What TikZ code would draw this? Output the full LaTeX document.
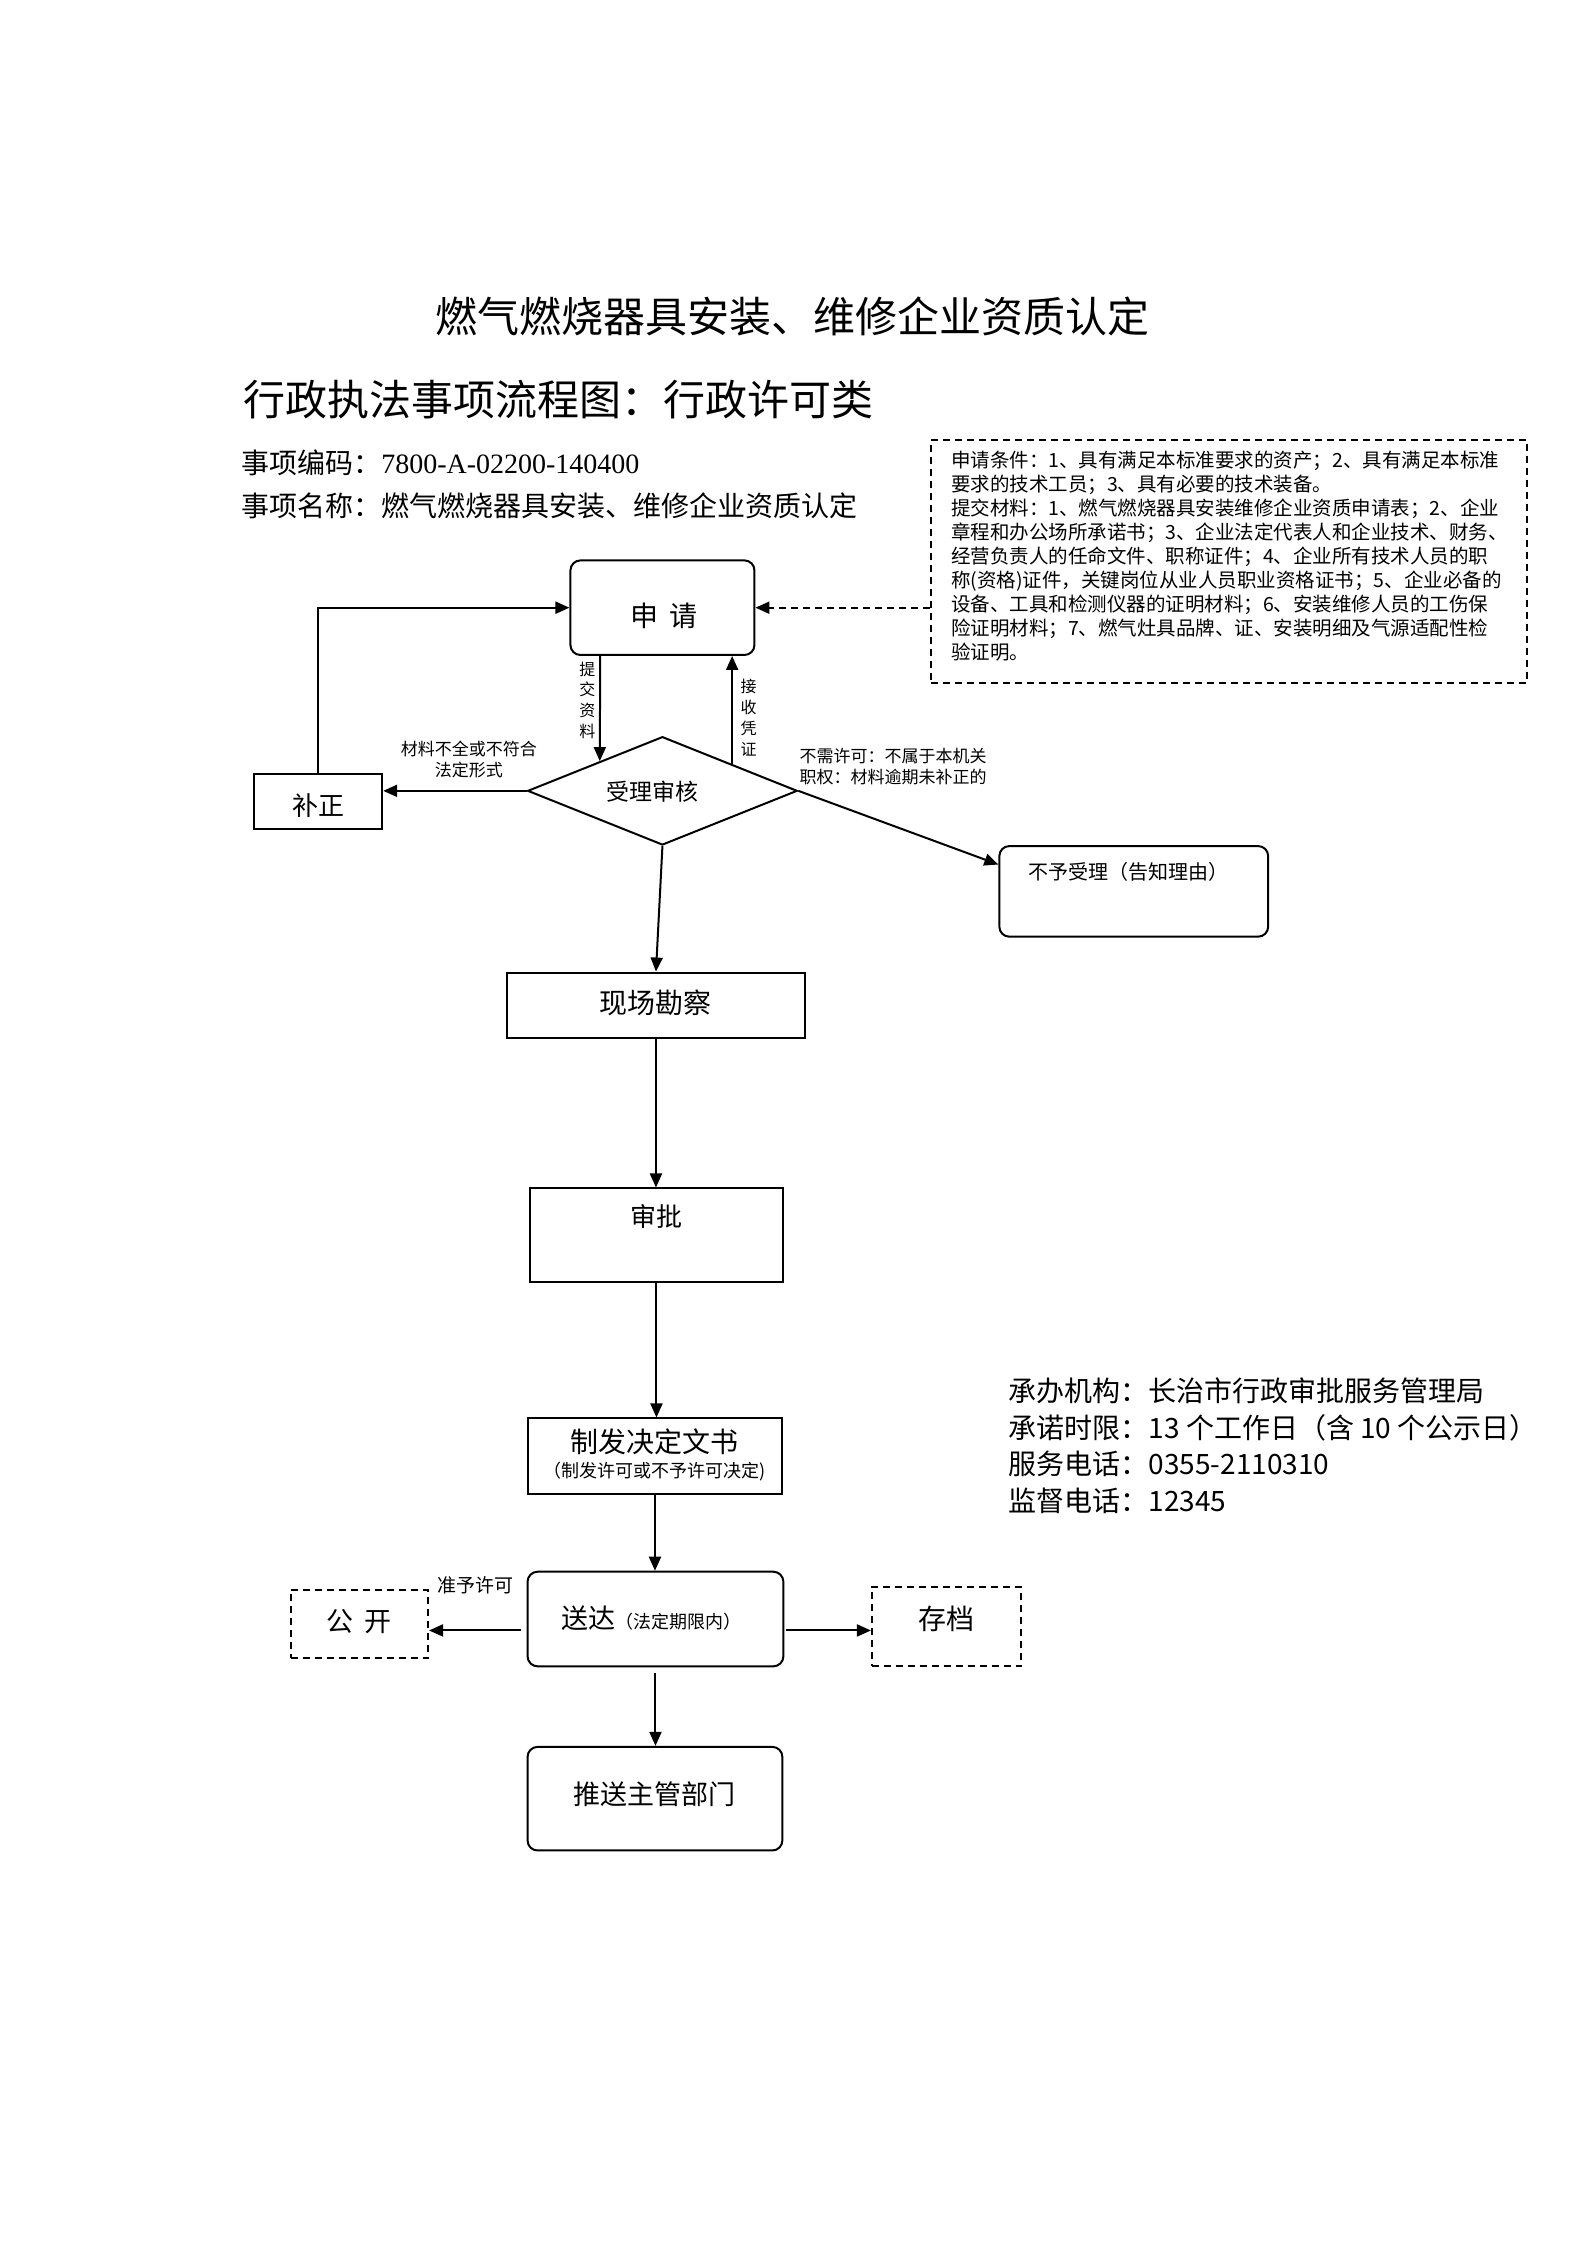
\documentclass[tikz,border=0pt]{standalone}
\usepackage{fontspec}
\setmainfont{Noto Sans CJK SC}
\newfontfamily\tnr{Liberation Serif}
\usetikzlibrary{arrows.meta,shapes.geometric,calc}
\newcommand{\fsz}[2]{\fontsize{#1}{#2}\selectfont}
\begin{document}
\begin{tikzpicture}[x=0.4977pt,y=-0.4977pt,
  box/.style={draw,line width=1pt,inner sep=0pt,anchor=center},
  rbox/.style={box,rounded corners=5pt},
  dbox/.style={box,dash pattern=on 3.5pt off 2.5pt},
  arr/.style={line width=1pt,-{Triangle[length=7pt,width=6pt]}},
  lbl/.style={inner sep=0pt,font=\fsz{8.5pt}{10.5pt},align=center},
  txt/.style={inner sep=0pt},
]
\useasboundingbox[fill=white] (0,0) rectangle (1594.3,2255.4);

% titles
\node[txt,font=\fsz{21pt}{24pt}] (t1) at (796,318) {燃气燃烧器具安装、维修企业资质认定};
\node[txt,anchor=west,font=\fsz{21pt}{24pt}] (t2) at (244,401) {行政执法事项流程图：行政许可类};
\node[txt,anchor=west,font=\fsz{14pt}{16pt}] (t3) at (242,465) {事项编码：{\tnr 7800-A-02200-140400}};
\node[txt,anchor=west,font=\fsz{14pt}{16pt}] (t4) at (242,508) {事项名称：燃气燃烧器具安装、维修企业资质认定};

% info box
\node[dbox,minimum width=298pt,minimum height=121.5pt] (info) at (1234.5,564) {};
\node[txt,anchor=north west,align=left,font=\fsz{9.75pt}{12pt}] (infot) at (955,453) {申请条件：1、具有满足本标准要求的资产；2、具有满足本标准\\
要求的技术工员；3、具有必要的技术装备。\\
提交材料：1、燃气燃烧器具安装维修企业资质申请表；2、企业\\
章程和办公场所承诺书；3、企业法定代表人和企业技术、财务、\\
经营负责人的任命文件、职称证件；4、企业所有技术人员的职\\
称(资格)证件，关键岗位从业人员职业资格证书；5、企业必备的\\
设备、工具和检测仪器的证明材料；6、安装维修人员的工伤保\\
险证明材料；7、燃气灶具品牌、证、安装明细及气源适配性检\\
验证明。};

% boxes
\node[rbox,minimum width=92pt,minimum height=47.3pt] (sq) at (665.5,610.5) {};
\node[txt,font=\fsz{14pt}{16pt}] (sqt) at (667,619) {申\hspace{0.4em}请};

\node[box,minimum width=64.2pt,minimum height=27.4pt] (bz) at (319.5,805.5) {};
\node[txt,font=\fsz{13pt}{15pt}] (bzt) at (319.5,809) {补正};

\node[box,diamond,minimum width=134.9pt,minimum height=54.2pt] (dia) at (665.5,794.5) {};
\node[txt,font=\fsz{11.5pt}{13pt}] (diat) at (656,795) {受理审核};

\node[rbox,minimum width=134.4pt,minimum height=45.3pt] (bs) at (1139,895.5) {};
\node[txt,anchor=west,font=\fsz{10pt}{12pt}] (bst) at (1033,876) {不予受理（告知理由）};

\node[box,minimum width=149.3pt,minimum height=32.8pt] (xc) at (659,1010) {};
\node[txt,font=\fsz{14pt}{16pt}] (xct) at (659,1007) {现场勘察};

\node[box,minimum width=126.9pt,minimum height=46.8pt] (sp) at (659.5,1241) {};
\node[txt,font=\fsz{13pt}{15pt}] (spt) at (659.5,1222) {审批};

\node[box,minimum width=127.4pt,minimum height=37.8pt] (zf) at (658,1463) {};
\node[txt,font=\fsz{14pt}{16pt}] (zft1) at (658,1448) {制发决定文书};
\node[txt,font=\fsz{9pt}{10pt}] (zft2) at (658,1478) {（制发许可或不予许可决定)};

\node[rbox,minimum width=127.9pt,minimum height=47.3pt] (sd) at (658.5,1626.5) {};
\node[txt,font=\fsz{13.5pt}{15pt}] (sdt) at (655,1626) {送达{\fsz{9pt}{10pt}（法定期限内）}};

\node[dbox,minimum width=68.7pt,minimum height=34.3pt] (gk) at (361,1631.5) {};
\node[txt,font=\fsz{13.5pt}{15pt}] (gkt) at (361,1629) {公\hspace{0.4em}开};

\node[dbox,minimum width=74.7pt,minimum height=39.8pt] (cd) at (951,1634) {};
\node[txt,font=\fsz{14pt}{16pt}] (cdt) at (951,1626) {存档};

\node[rbox,minimum width=127.4pt,minimum height=51.8pt] (ts) at (658,1807) {};
\node[txt,font=\fsz{13.5pt}{15pt}] (tst) at (658,1802) {推送主管部门};

% labels
\node[lbl] (l1) at (471,763.5) {材料不全或不符合\\法定形式};
\node[lbl,anchor=west,align=left] (l2) at (803,770.5) {不需许可：不属于本机关\\职权：材料逾期未补正的};
\node[lbl,font=\fsz{8pt}{10.4pt}] (l3) at (590,703.5) {提\\交\\资\\料};
\node[lbl,font=\fsz{8pt}{10.4pt}] (l4) at (752,721) {接\\收\\凭\\证};
\node[lbl,font=\fsz{9.5pt}{11pt}] (l5) at (478,1593) {准予许可};

% right info
\node[txt,anchor=west,align=left,font=\fsz{14pt}{18.4pt}] (ri) at (1013,1452.5) {承办机构：长治市行政审批服务管理局\\承诺时限：13 个工作日（含 10 个公示日）\\服务电话：0355-2110310\\监督电话：12345};

% connectors
\coordinate (x603) at (603,0);
\coordinate (tjEnd) at ($(dia.west)!0.539!(dia.north)$);
\coordinate (jsStart) at ($(dia.north)!0.513!(dia.east)$);
\draw[arr] (sq.south -| x603) -- (tjEnd);
\draw[arr] (jsStart) -- (jsStart |- sq.south);
\draw[arr] (dia.west) -- (bz.east |- dia.west);
\draw[arr] (bz.north) |- (sq.west);
\draw[arr] (dia.east) -- ($(bs.north west)!0.21!(bs.south west)$);
\draw[arr,dash pattern=on 3.5pt off 2.5pt] (info.west |- sq.east) -- (sq.east);
\draw[arr] (dia.south) -- (xc.north);
\draw[arr] (xc.south) -- (xc.south |- sp.north);
\draw[arr] (sp.south) -- (sp.south |- zf.north);
\draw[arr] (zf.south) -- (zf.south |- sd.north);
\draw[arr,shorten <=3pt] (sd.south) -- (sd.south |- ts.north);
\coordinate (sdl) at ($(sd.west)+(-6,11.5)$);
\coordinate (sdr) at ($(sd.east)+(2,11.5)$);
\draw[arr] (sdl) -- (sdl -| gk.east);
\draw[arr] (sdr) -- (sdr -| cd.west);
\end{tikzpicture}
\end{document}
